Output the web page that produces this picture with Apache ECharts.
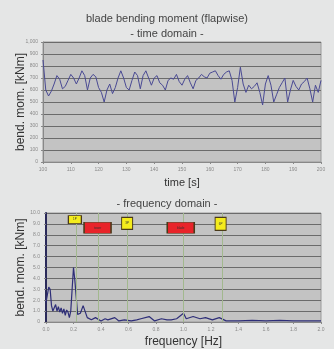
<!DOCTYPE html>
<html>
<head>
<meta charset="utf-8">
<script src="https://cdn.jsdelivr.net/npm/echarts@6/dist/echarts.min.js"></script>
<style>
  html, body { margin: 0; padding: 0; background: #e5e6e6; }
  #chart { width: 334px; height: 349px; }
</style>
</head>
<body>
<div id="chart"></div>
<script>
// time domain: one value per second, 100..200 s
var timeS = [];
for (var t = 100; t <= 200; t++) timeS.push(t);
var momentKNm = [
  850, 600, 550, 590, 650, 720, 690, 610, 630, 680,
  730, 700, 650, 700, 760, 720, 600, 700, 730, 710,
  620, 580, 500, 600, 650, 570, 620, 700, 760, 700,
  620, 600, 680, 750, 720, 610, 720, 760, 700, 640,
  700, 720, 660, 640, 600, 680, 700, 690, 730, 670,
  640, 690, 720, 660, 610, 680, 700, 730, 710, 700,
  740, 750, 760, 720, 690, 730, 750, 760, 680, 500,
  620, 790, 650, 580, 640, 610, 630, 660, 580, 475,
  650, 720, 640, 500, 560, 620, 660, 700, 500, 600,
  680, 630, 600, 650, 670, 700, 610, 500, 640, 580,
  680
];

// frequency domain
var freqHz = [
  0.00, 0.01, 0.02, 0.03, 0.04, 0.05, 0.06, 0.07, 0.08, 0.09,
  0.10, 0.11, 0.12, 0.13, 0.14, 0.15, 0.16, 0.17, 0.18, 0.19,
  0.20, 0.21, 0.23, 0.25, 0.27, 0.30, 0.33, 0.36, 0.40, 0.43,
  0.45, 0.50, 0.53, 0.57, 0.62, 0.66, 0.69, 0.75, 0.79, 0.84,
  0.88, 0.91, 0.95, 1.00, 1.02, 1.07, 1.12, 1.16, 1.21, 1.26,
  1.31, 1.40, 1.50, 1.60, 1.70, 1.80, 1.90, 2.00
];
var amplitude = [
  1.8, 1.7, 3.2, 3.0, 1.5, 1.0, 1.0, 1.6, 1.0, 1.4,
  0.9, 1.3, 0.8, 1.2, 0.6, 1.1, 0.9, 0.4, 1.0, 3.0,
  5.0, 3.8, 0.7, 0.8, 1.5, 0.4, 0.2, 0.4, 0.1, 0.3,
  0.2, 0.4, 0.1, 0.2, 0.1, 0.2, 0.3, 0.5, 0.1, 0.3,
  0.2, 0.2, 0.3, 0.8, 0.3, 0.5, 0.3, 0.4, 0.2, 0.4,
  0.1, 0.1, 0.15, 0.1, 0.15, 0.1, 0.1, 0.1
];

var markerFreq = [0.22, 0.38, 0.59, 1.0, 1.28];
var boxLabels = ['1P', 'tower', '3P', 'blade', '6P'];
var boxFreq = [0.21, 0.375, 0.59, 0.98, 1.27];
var boxLevel = [9.4, 8.65, 9.05, 8.65, 9.0];
var boxKind = ['p', 'eig', 'p', 'eig', 'p'];
var boxSize = [[13, 8], [27, 11], [11, 12], [27, 11], [11, 13]];

var myChart = echarts.init(document.getElementById('chart'));

var tickLabel = { color: '#8a8a8a', fontSize: 5, margin: 5, fontFamily: 'Liberation Sans' };
var gridLine = { show: true, lineStyle: { color: '#6b6b6b', width: 1.2 } };

var boxes = boxLabels.map(function (name, i) {
  var yellow = boxKind[i] === 'p';
  return {
    coord: [boxFreq[i], boxLevel[i]],
    symbol: 'rect',
    symbolSize: boxSize[i],
    itemStyle: {
      color: yellow ? '#f4ec1c' : '#e8242a',
      borderColor: '#4a3a1a',
      borderWidth: 1
    },
    label: { show: true, formatter: name, fontSize: 3, color: '#333' }
  };
});

var option = {
  backgroundColor: '#e5e6e6',
  animation: false,
  title: [
    {
      text: 'blade bending moment (flapwise)\n- time domain -',
      left: 'center', top: 6,
      textStyle: { fontSize: 11, fontWeight: 'normal', color: '#444', lineHeight: 15, fontFamily: 'Liberation Sans' }
    },
    {
      text: '- frequency domain -',
      left: 'center', top: 193,
      textStyle: { fontSize: 11, fontWeight: 'normal', color: '#444', fontFamily: 'Liberation Sans' }
    }
  ],
  grid: [
    { left: 43, right: 13, top: 42, height: 120, show: true, backgroundColor: '#c3c3c3', borderColor: '#9a9a9a', borderWidth: 1 },
    { left: 46, right: 13, top: 213, height: 113, show: true, backgroundColor: '#c3c3c3', borderColor: '#9a9a9a', borderWidth: 1 }
  ],
  xAxis: [
    {
      type: 'value', gridIndex: 0, min: 100, max: 200, interval: 10,
      name: 'time [s]', nameLocation: 'middle', nameGap: 15, nameMoveOverlap: false,
      nameTextStyle: { fontSize: 11, color: '#333', fontFamily: 'Liberation Sans' },
      axisLine: { lineStyle: { color: '#888' } },
      axisTick: { length: 2, lineStyle: { color: '#888' } },
      axisLabel: tickLabel,
      splitLine: { show: false }
    },
    {
      type: 'value', gridIndex: 1, min: 0, max: 2, interval: 0.2,
      name: 'frequency [Hz]', nameLocation: 'middle', nameGap: 14, nameMoveOverlap: false,
      nameTextStyle: { fontSize: 12, color: '#333', fontFamily: 'Liberation Sans' },
      axisLine: { lineStyle: { color: '#888' } },
      axisTick: { length: 2, lineStyle: { color: '#888' } },
      axisLabel: {
        color: '#8a8a8a', fontSize: 5, margin: 5, fontFamily: 'Liberation Sans',
        formatter: function (v) { return v.toFixed(1); }
      },
      splitLine: { show: false }
    }
  ],
  yAxis: [
    {
      type: 'value', gridIndex: 0, min: 0, max: 1000, interval: 100,
      name: 'bend. mom. [kNm]', nameLocation: 'middle', nameGap: 16, nameMoveOverlap: false,
      nameTextStyle: { fontSize: 12, color: '#333', fontFamily: 'Liberation Sans' },
      axisLine: { show: true, lineStyle: { color: '#888' } },
      axisTick: { show: true, length: 2, lineStyle: { color: '#888' } },
      axisLabel: tickLabel,
      splitLine: gridLine
    },
    {
      type: 'value', gridIndex: 1, min: 0, max: 10, interval: 1,
      name: 'bend. mom. [kNm]', nameLocation: 'middle', nameGap: 19, nameMoveOverlap: false,
      nameTextStyle: { fontSize: 12, color: '#333', fontFamily: 'Liberation Sans' },
      axisLine: { show: true, lineStyle: { color: '#2a2a5a', width: 2 } },
      axisTick: { show: true, length: 2, lineStyle: { color: '#888' } },
      axisLabel: {
        color: '#8a8a8a', fontSize: 5, margin: 6, fontFamily: 'Liberation Sans',
        formatter: function (v) { return v === 0 ? '0' : v.toFixed(1); }
      },
      splitLine: gridLine
    }
  ],
  series: [
    {
      type: 'line', xAxisIndex: 0, yAxisIndex: 0,
      data: timeS.map(function (t, i) { return [t, momentKNm[i]]; }),
      showSymbol: false,
      lineStyle: { color: '#4a4a94', width: 1 }
    },
    {
      type: 'line', xAxisIndex: 1, yAxisIndex: 1,
      data: freqHz.map(function (f, i) { return [f, amplitude[i]]; }),
      showSymbol: false,
      lineStyle: { color: '#2e2e78', width: 1.2 },
      z: 3,
      markLine: {
        silent: true, symbol: 'none',
        label: { show: false },
        lineStyle: { color: '#a2b88e', width: 1, type: 'solid' },
        data: markerFreq.map(function (f) { return { xAxis: f }; })
      },
      markPoint: {
        silent: true,
        data: boxes
      }
    }
  ]
};

myChart.setOption(option, true);
</script>
</body>
</html>
